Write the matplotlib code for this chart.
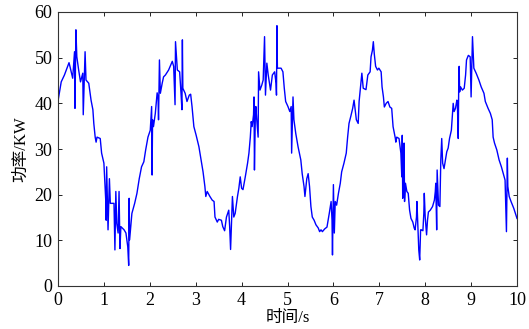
import matplotlib
matplotlib.use("Agg")
import matplotlib.pyplot as plt

# power trace, time in s, power in kW
t = [0.00, 0.01, 0.07, 0.14, 0.24, 0.26, 0.32, 0.36, 0.37, 0.39, 0.41, 0.45, 0.49, 0.54, 0.55, 0.59,
     0.61, 0.67, 0.72, 0.76, 0.78, 0.81, 0.83, 0.85, 0.92, 0.95, 1.00, 1.04, 1.05, 1.06, 1.09, 1.12,
     1.14, 1.22, 1.24, 1.26, 1.28, 1.31, 1.33, 1.35, 1.37, 1.44, 1.48, 1.52, 1.54, 1.55, 1.56, 1.61,
     1.67, 1.72, 1.77, 1.82, 1.87, 1.91, 1.96, 2.01, 2.04, 2.05, 2.06, 2.08, 2.12, 2.16, 2.18, 2.19,
     2.21, 2.23, 2.27, 2.30, 2.34, 2.41, 2.49, 2.52, 2.55, 2.56, 2.60, 2.65, 2.68, 2.70, 2.71, 2.72,
     2.77, 2.81, 2.86, 2.89, 2.92, 2.96, 3.01, 3.07, 3.11, 3.16, 3.20, 3.22, 3.25, 3.31, 3.36, 3.40,
     3.42, 3.47, 3.50, 3.56, 3.59, 3.63, 3.67, 3.72, 3.74, 3.76, 3.80, 3.83, 3.86, 3.91, 3.94, 3.97,
     4.00, 4.03, 4.08, 4.13, 4.16, 4.19, 4.21, 4.23, 4.26, 4.27, 4.28, 4.30, 4.31, 4.33, 4.36, 4.37,
     4.40, 4.44, 4.47, 4.50, 4.52, 4.55, 4.58, 4.63, 4.67, 4.72, 4.75, 4.76, 4.77, 4.78, 4.86, 4.90,
     4.93, 4.96, 5.01, 5.05, 5.08, 5.09, 5.12, 5.14, 5.18, 5.23, 5.29, 5.32, 5.36, 5.38, 5.42, 5.45,
     5.48, 5.51, 5.54, 5.58, 5.62, 5.67, 5.70, 5.73, 5.76, 5.81, 5.86, 5.91, 5.95, 5.97, 5.98, 6.00,
     6.02, 6.04, 6.07, 6.11, 6.15, 6.18, 6.23, 6.28, 6.31, 6.34, 6.38, 6.42, 6.45, 6.47, 6.50, 6.54,
     6.56, 6.59, 6.62, 6.65, 6.71, 6.75, 6.80, 6.82, 6.85, 6.87, 6.89, 6.92, 6.96, 6.99, 7.04, 7.06,
     7.09, 7.11, 7.15, 7.19, 7.23, 7.27, 7.30, 7.35, 7.36, 7.38, 7.43, 7.47, 7.49, 7.50, 7.51, 7.52,
     7.54, 7.55, 7.57, 7.60, 7.63, 7.66, 7.69, 7.73, 7.76, 7.78, 7.81, 7.82, 7.84, 7.86, 7.88, 7.90,
     7.92, 7.95, 7.97, 7.98, 8.00, 8.03, 8.05, 8.07, 8.11, 8.16, 8.20, 8.22, 8.23, 8.25, 8.26, 8.29,
     8.32, 8.34, 8.36, 8.38, 8.41, 8.44, 8.47, 8.50, 8.53, 8.57, 8.59, 8.61, 8.63, 8.66, 8.69, 8.70,
     8.72, 8.73, 8.74, 8.75, 8.77, 8.81, 8.85, 8.88, 8.90, 8.94, 8.98, 9.00, 9.03, 9.06, 9.11, 9.17,
     9.22, 9.28, 9.31, 9.37, 9.42, 9.46, 9.48, 9.51, 9.56, 9.61, 9.66, 9.71, 9.74, 9.77, 9.79, 9.80,
     9.83, 9.87, 9.93, 10.00]
power = [40.5, 41.1, 44.7, 46.2, 48.9, 48.1, 45.5, 51.3, 38.9, 56.1, 50.2, 47.3, 44.7, 46.6, 37.5, 51.3,
         45.1, 44.4, 40.7, 38.6, 35.6, 32.6, 31.5, 32.6, 32.3, 29.1, 26.9, 18.8, 14.4, 26.1, 12.3, 23.5,
         18.1, 18.1, 7.9, 20.7, 13.7, 11.6, 20.7, 8.2, 13.0, 12.3, 11.6, 8.6, 4.5, 19.2, 10.1, 15.9,
         18.1, 20.3, 23.5, 26.1, 27.2, 29.8, 32.6, 34.1, 39.3, 24.3, 36.4, 34.9, 37.8, 42.3, 41.1, 36.4,
         49.5, 42.2, 44.4, 45.8, 46.2, 47.3, 49.2, 48.1, 39.7, 53.5, 47.3, 46.9, 42.2, 38.6, 53.9, 43.3,
         42.2, 40.4, 41.8, 42.0, 39.3, 34.9, 33.0, 30.5, 28.0, 25.0, 21.8, 19.6, 20.7, 19.6, 18.8, 18.5,
         15.1, 14.0, 14.6, 14.4, 13.0, 12.1, 15.1, 16.6, 13.0, 8.0, 19.6, 15.1, 15.9, 19.6, 21.4, 23.9,
         21.4, 21.1, 23.9, 26.9, 29.1, 32.6, 36.0, 34.9, 37.5, 41.4, 25.4, 37.8, 39.3, 36.4, 32.6, 46.9,
         42.9, 44.0, 45.1, 54.6, 41.8, 48.8, 46.2, 42.9, 46.2, 46.9, 44.4, 41.8, 57.0, 47.7, 47.7, 46.9,
         43.3, 40.4, 39.3, 38.2, 39.3, 29.1, 41.4, 36.4, 33.4, 30.5, 27.6, 24.6, 21.8, 19.6, 23.5, 24.6,
         21.8, 17.4, 15.1, 14.4, 13.4, 12.7, 11.9, 12.3, 11.9, 12.5, 12.9, 15.9, 18.5, 14.4, 6.8, 22.2,
         11.6, 18.5, 17.7, 20.3, 22.5, 25.0, 26.9, 29.1, 32.6, 35.6, 37.2, 38.9, 40.7, 38.9, 36.4, 35.6,
         40.4, 43.6, 46.6, 43.3, 43.0, 46.2, 46.9, 50.2, 51.6, 53.5, 50.9, 48.1, 47.3, 47.7, 46.9, 43.6,
         41.4, 39.2, 40.0, 40.4, 39.2, 38.9, 34.9, 32.3, 31.5, 32.6, 32.3, 29.1, 23.9, 33.0, 19.2, 21.8,
         31.3, 18.5, 22.5, 20.7, 20.3, 16.6, 14.8, 14.0, 12.7, 12.3, 15.1, 18.5, 13.0, 7.9, 5.7, 12.3,
         12.3, 12.1, 15.9, 20.3, 15.1, 11.2, 14.4, 16.2, 16.6, 17.4, 18.8, 20.7, 22.5, 12.3, 25.4, 17.7,
         17.4, 27.6, 32.3, 26.9, 25.7, 27.6, 29.4, 30.2, 32.3, 34.1, 37.1, 40.0, 38.2, 38.9, 40.7, 40.4,
         32.3, 43.6, 48.1, 42.5, 43.6, 42.9, 43.3, 46.2, 49.5, 50.5, 50.2, 41.4, 54.6, 47.7, 46.6, 45.1,
         43.6, 42.2, 40.4, 38.9, 37.8, 36.4, 32.6, 31.3, 29.8, 27.6, 26.1, 24.3, 23.2, 11.9, 28.0, 21.8,
         19.6, 18.5, 17.0, 14.8]

x_ticks = [0, 1, 2, 3, 4, 5, 6, 7, 8, 9, 10]
y_ticks = [0, 10, 20, 30, 40, 50, 60]

serif = ["Liberation Serif", "DejaVu Serif"]
cjk = ["Liberation Serif", "Noto Sans CJK SC", "DejaVu Sans"]

fig = plt.figure(figsize=(5.29, 3.29), dpi=100)
ax = fig.add_axes([58 / 529, 1 - 286 / 329, 459 / 529, 274 / 329])
ax.plot(t, power, color="#0000ff", lw=1.0)

ax.set_xlim(0, 10)
ax.set_ylim(0, 60)
ax.set_xticks(x_ticks)
ax.set_yticks(y_ticks)
ax.tick_params(direction="in", length=3, width=0.6, top=True, right=True,
               labelsize=13, pad=4)
for lab in ax.get_xticklabels() + ax.get_yticklabels():
    lab.set_family(serif)
for s in ax.spines.values():
    s.set_linewidth(0.8)
    s.set_color("#333333")

ax.set_xlabel("时间/s", family=cjk, fontsize=12, labelpad=1)
ax.set_ylabel("功率/KW", family=cjk, fontsize=12, labelpad=4)

fig.savefig("out.png", dpi=100)
